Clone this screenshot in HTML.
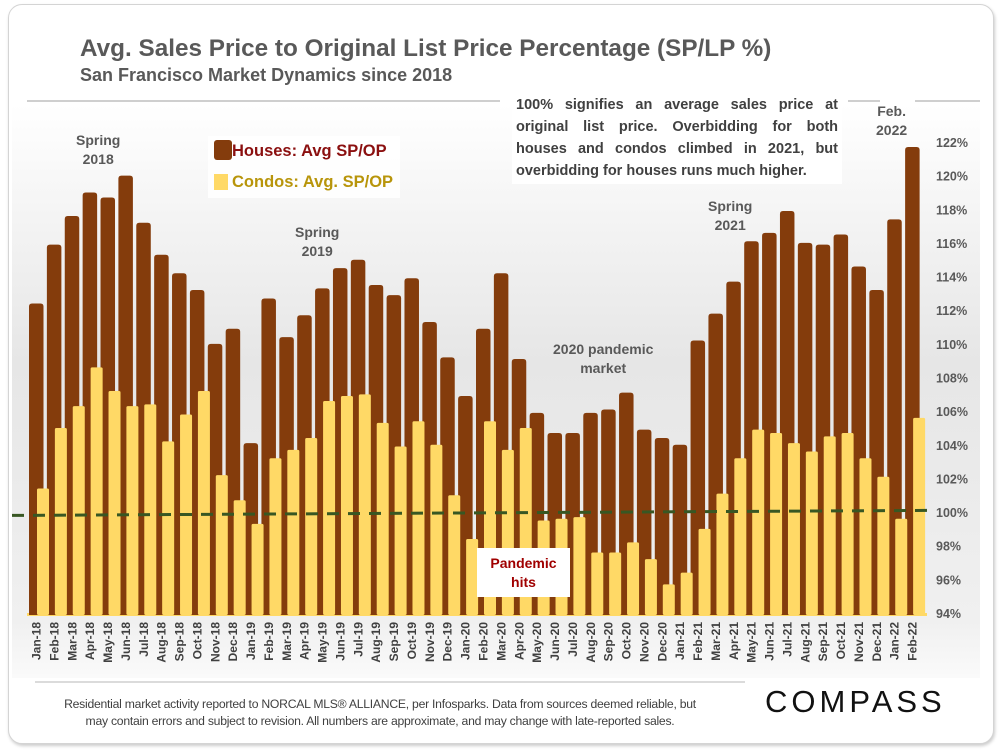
<!DOCTYPE html>
<html><head><meta charset="utf-8"><style>
body{margin:0;width:1000px;height:750px;background:#fff;font-family:"Liberation Sans",sans-serif;overflow:hidden}
#card{position:absolute;left:8px;top:4px;width:984px;height:738px;border:1px solid #d4d4d4;border-radius:14px;box-shadow:1px 2px 3px #ccc;background:#fff}
.t{position:absolute;white-space:nowrap}
</style></head><body>
<div id="card"></div>
<svg width="1000" height="750" style="position:absolute;left:0;top:0" id="svg">
<defs><linearGradient id="bg" x1="0" y1="0" x2="0" y2="1">
<stop offset="0" stop-color="#ffffff"/><stop offset="0.45" stop-color="#e6e6e6"/><stop offset="0.9" stop-color="#f0f0f0"/><stop offset="1" stop-color="#fafafa"/></linearGradient></defs>
<rect x="12" y="104" width="968" height="574" fill="url(#bg)"/>
<g id="bars"></g>
<g id="ylab"></g>
<g id="xlab"></g>
<line x1="27" y1="101" x2="500" y2="101" stroke="#cfcfcf" stroke-width="2"/>
<line x1="848" y1="101" x2="880" y2="101" stroke="#cfcfcf" stroke-width="2"/>
<line x1="915" y1="101" x2="980" y2="101" stroke="#cfcfcf" stroke-width="2"/>
<line x1="35" y1="682" x2="745" y2="682" stroke="#cfcfcf" stroke-width="1.5"/>
</svg>
<div class="t" style="left:80px;top:35px;font-size:24.3px;font-weight:bold;color:#595959">Avg. Sales Price to Original List Price Percentage (SP/LP %)</div>
<div class="t" style="left:80px;top:65px;font-size:18px;font-weight:bold;color:#595959">San Francisco Market Dynamics since 2018</div>
<div class="t" style="left:512px;top:92px;width:322px;white-space:normal;background:#fff;padding:2px 4px;font-size:14.5px;font-weight:bold;color:#404040;line-height:22px;text-align:justify;text-align-last:left">100% signifies an average sales price at original list price. Overbidding for both houses and condos climbed in 2021, but overbidding for houses runs much higher.</div>
<div class="t" style="left:208px;top:136px;width:192px;height:62px;background:rgba(255,255,255,0.85)"></div>
<div class="t" style="left:214px;top:140px;font-size:16.5px;font-weight:bold;color:#8b1010"><span style="display:inline-block;width:18px;height:20px;background:#843c0c;border-radius:3px;vertical-align:-4px"></span>Houses: Avg SP/OP</div>
<div class="t" style="left:214px;top:173px;font-size:16.5px;font-weight:bold;color:#b8950b"><span style="display:inline-block;width:14px;height:16px;background:#ffd966;vertical-align:-3px;margin-right:4px"></span>Condos: Avg. SP/OP</div>
<div class="t" style="left:76px;top:131px;font-size:14px;font-weight:bold;color:#595959;text-align:center;line-height:19px">Spring<br>2018</div>
<div class="t" style="left:295px;top:223px;font-size:14px;font-weight:bold;color:#595959;text-align:center;line-height:19px">Spring<br>2019</div>
<div class="t" style="left:553px;top:340px;font-size:14px;font-weight:bold;color:#595959;text-align:center;line-height:19px">2020 pandemic<br>market</div>
<div class="t" style="left:708px;top:197px;font-size:14px;font-weight:bold;color:#595959;text-align:center;line-height:19px">Spring<br>2021</div>
<div class="t" style="left:876px;top:102px;font-size:14px;font-weight:bold;color:#595959;text-align:center;line-height:19px">Feb.<br>2022</div>
<div class="t" style="left:477px;top:548px;width:93px;height:49px;background:#fff;font-size:14px;font-weight:bold;color:#a00000;text-align:center;line-height:19px;padding-top:6px;box-sizing:border-box">Pandemic<br>hits</div>
<div class="t" style="left:20px;top:696px;width:720px;white-space:normal;text-align:center;font-size:12.2px;letter-spacing:-0.25px;color:#404040;line-height:17px">Residential market activity reported to NORCAL MLS® ALLIANCE, per Infosparks. Data from sources deemed reliable, but<br>may contain errors and subject to revision. All numbers are approximate, and may change with late-reported sales.</div>
<div class="t" style="left:765px;top:684px;font-size:31px;letter-spacing:4px;color:#111">COMPASS</div>
<script>
const months=["Jan","Feb","Mar","Apr","May","Jun","Jul","Aug","Sep","Oct","Nov","Dec"];
const categories=[];for(let y=18;y<=22;y++)for(let m=0;m<12;m++){if(y===22&&m>1)break;categories.push(months[m]+"-"+y);}
const houses=[112.4,115.9,117.6,119.0,118.7,120.0,117.2,115.3,114.2,113.2,110.0,110.9,
104.1,112.7,110.4,111.7,113.3,114.5,115.0,113.5,112.9,113.9,111.3,109.2,
106.9,110.9,114.2,109.1,105.9,104.7,104.7,105.9,106.1,107.1,104.9,104.4,
104.0,110.2,111.8,113.7,116.1,116.6,117.9,116.0,115.9,116.5,114.6,113.2,
117.4,121.7];
const condos=[101.4,105.0,106.3,108.6,107.2,106.3,106.4,104.2,105.8,107.2,102.2,100.7,
99.3,103.2,103.7,104.4,106.6,106.9,107.0,105.3,103.9,105.4,104.0,101.0,
98.4,105.4,103.7,105.0,99.5,99.6,99.7,97.6,97.6,98.2,97.2,95.7,
96.4,99.0,101.1,103.2,104.9,104.7,104.1,103.6,104.5,104.7,103.2,102.1,
99.6,105.6];
const yTicks=[94,96,98,100,102,104,106,108,110,112,114,116,118,120,122];
const trendStart=99.8, trendEnd=100.1;
const NS="http://www.w3.org/2000/svg";
const X0=27,BAND=17.88,YMIN=94,YMAX=122,Y0=613,Y1=142;
function y(v){return Y0-(v-YMIN)/(YMAX-YMIN)*(Y0-Y1);}
function x(i){return X0+i*BAND;}
function mk(t,a,p){const e=document.createElementNS(NS,t);for(const k in a)e.setAttribute(k,a[k]);p.appendChild(e);return e;}
const bars=document.getElementById('bars');
const base=y(YMIN)+2;
mk('rect',{x:X0,y:Y0,width:900,height:3,fill:'#ffd966'},bars);
houses.forEach((v,i)=>{const r=mk('path',{d:`M${x(i)+2},${base}V${y(v)+3}Q${x(i)+2},${y(v)} ${x(i)+5},${y(v)}H${x(i)+13.5}Q${x(i)+16.5},${y(v)} ${x(i)+16.5},${y(v)+3}V${base}Z`,fill:'#843c0c'},bars);

});
condos.forEach((v,i)=>{const r=mk('rect',{x:x(i)+10,y:y(v),width:12,height:base-y(v),fill:'#ffd966',rx:1.5},bars);

});
const tl=mk('line',{x1:12,y1:y(trendStart),x2:930,y2:y(trendEnd),stroke:'#385723','stroke-width':3,'stroke-dasharray':'12,9'},bars);


const yl=document.getElementById('ylab');
yTicks.forEach(t=>{const e=mk('text',{x:936,y:y(t)+5,'font-size':12.5,'font-weight':'bold',fill:'#595959','font-family':'Liberation Sans'},yl);e.textContent=t+'%';

});
const xl=document.getElementById('xlab');
categories.forEach((c,i)=>{const cx=x(i)+13.5;const e=mk('text',{x:0,y:0,transform:`translate(${cx},622) rotate(-90)`,'text-anchor':'end','font-size':12,'font-weight':'bold',fill:'#404040','font-family':'Liberation Sans'},xl);e.textContent=c;

});
</script>
</body></html>
